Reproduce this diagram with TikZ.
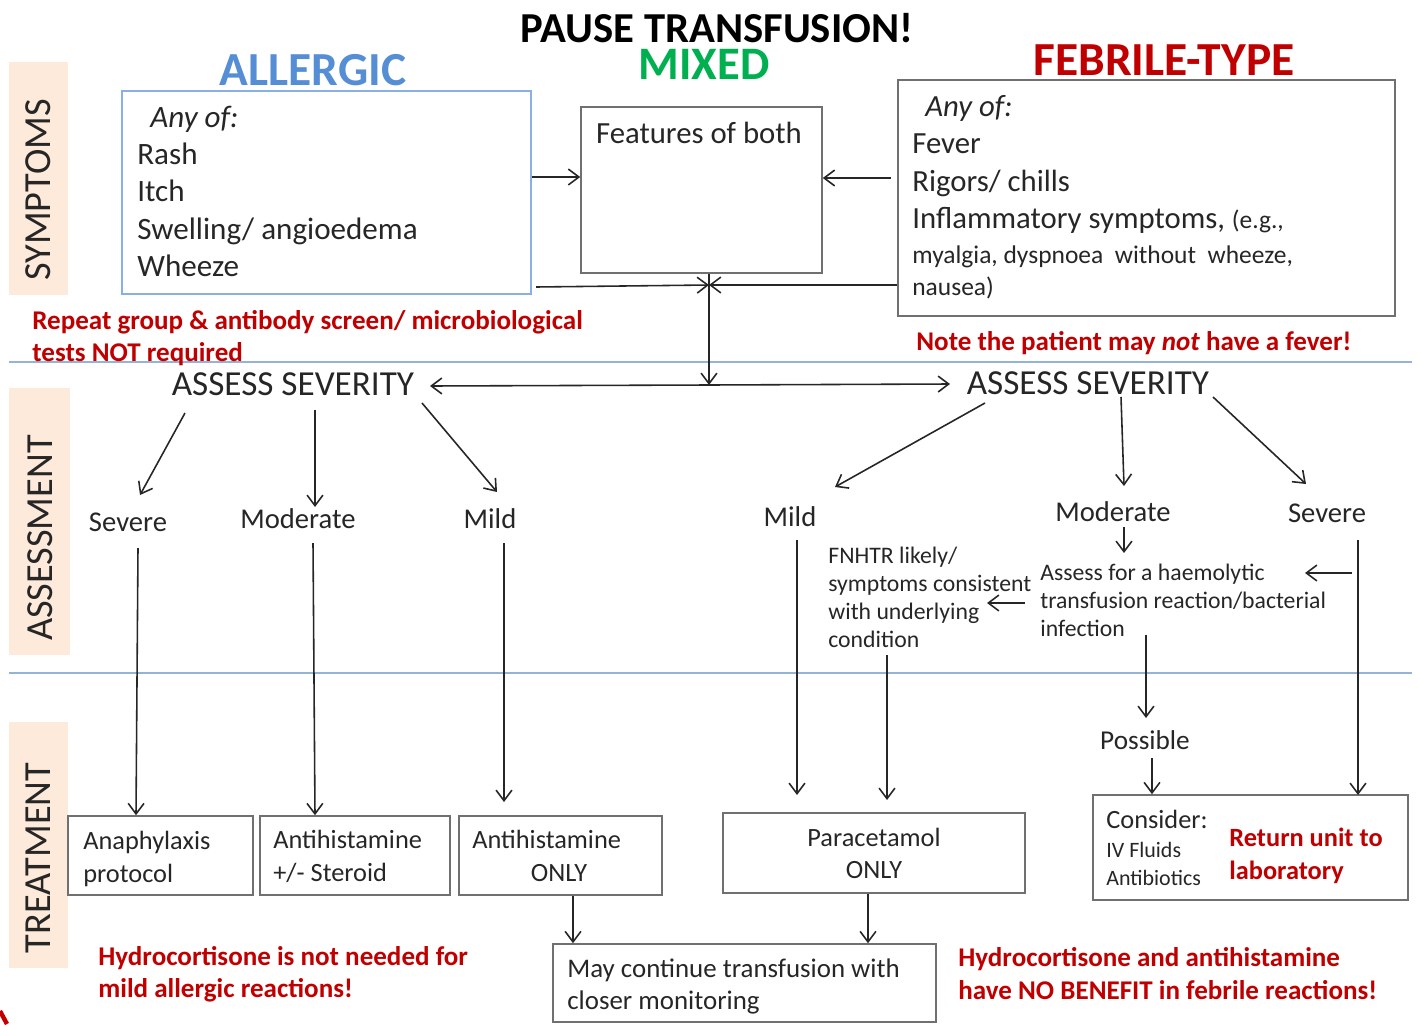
\documentclass[tikz,border=0pt]{standalone}
\usepackage{fontspec}
\setmainfont{Carlito}
\usetikzlibrary{arrows.meta,fit}
\definecolor{allblue}{HTML}{558ED5}
\definecolor{mixgreen}{HTML}{00B050}
\definecolor{febred}{HTML}{C00000}
\definecolor{bandfill}{HTML}{FDEADA}
\definecolor{sepblue}{HTML}{95B3D7}
\definecolor{txt}{HTML}{262626}
\definecolor{boxgray}{HTML}{707070}
\begin{document}
\begin{tikzpicture}[x=0.02cm,y=-0.02cm,
  fz/.style={font=\fontsize{#1}{#1}\selectfont},
  tx/.style={inner sep=0pt, text=txt, text height=0.96em, text depth=0.1em},
  lt/.style={tx, anchor=west},
  ct/.style={tx, anchor=center},
  redn/.style={lt, text=febred, font=\bfseries\fontsize{15.4pt}{15.4pt}\selectfont},
  box/.style={draw=boxgray, line width=0.9pt, inner sep=0pt},
  band/.style={fill=bandfill, draw=none, inner sep=0pt},
  sidelabel/.style={rotate=90, inner sep=0pt, text=txt, fz=21.8pt},
  arr/.style={-{Straight Barb[length=6pt,width=9pt]}, line width=0.9pt, draw=black!85},
  sep/.style={draw=sepblue, line width=0.9pt}]
\useasboundingbox (0,0) rectangle (1422,1024);

% side bands
\node[band, fit={(9,62) (68,295)}] (bandS) {};
\node[band, fit={(9,388) (70,655)}] (bandA) {};
\node[band, fit={(9,722) (68,968)}] (bandT) {};
\node[sidelabel] (labS) at (38,190) {SYMPTOMS};
\node[sidelabel] (labA) at (40,538) {ASSESSMENT};
\node[sidelabel] (labT) at (38,858) {TREATMENT};

% separators
\coordinate (s1l) at (9,362); \coordinate (s1r) at (1412,362);
\coordinate (s2l) at (9,673); \coordinate (s2r) at (1412,673);
\draw[sep] (s1l) -- (s1r);
\draw[sep] (s2l) -- (s2r);

% titles
\node[ct, text=black, font=\bfseries\fontsize{24.3pt}{24.3pt}\selectfont] (title) at (717,35) {PAUSE TRANSFUSION!};
\node[ct, text=allblue, font=\bfseries\fontsize{27pt}{27pt}\selectfont] (tAll) at (313,78) {ALLERGIC};
\node[ct, text=mixgreen, font=\bfseries\fontsize{26.5pt}{26.5pt}\selectfont] (tMix) at (704,72) {MIXED};
\node[ct, text=febred, font=\bfseries\fontsize{27pt}{27pt}\selectfont] (tFeb) at (1164,68) {FEBRILE-TYPE};

% symptom boxes
\node[box, draw=allblue!70, fit={(122,91) (531,294)}] (allergic) {};
\node[lt, font=\itshape\fontsize{17.7pt}{17.7pt}\selectfont] (aAny) at (150,120) {Any of:};
\node[lt, fz=17.7pt] (aRash) at (137,157) {Rash};
\node[lt, fz=17.7pt] (aItch) at (137,194) {Itch};
\node[lt, fz=17.7pt] (aSwel) at (137,232) {Swelling/ angioedema};
\node[lt, fz=17.7pt] (aWhee) at (137,269) {Wheeze};

\node[box, fit={(581,107) (822,273)}] (mixed) {};
\node[ct, fz=17.5pt] (mFeat) at (699,136) {Features of both};

\node[box, fit={(898,80) (1395,316)}] (febrile) {};
\node[lt, font=\itshape\fontsize{17.5pt}{17.5pt}\selectfont] (fAny) at (925,109) {Any of:};
\node[lt, fz=17.5pt] (fFev) at (912,146) {Fever};
\node[lt, fz=17.5pt] (fRig) at (912,184) {Rigors/ chills};
\node[lt, fz=17.5pt] (fInf) at (912,221) {Inflammatory symptoms, {\fontsize{14.5pt}{14.5pt}\selectfont (e.g.,}};
\node[lt, fz=14.5pt] (fMya) at (912,256) {myalgia, dyspnoea\ \ without\ \ wheeze,};
\node[lt, fz=14.5pt] (fNau) at (912,288) {nausea)};

% red notes top
\node[redn] (rep1) at (32,322) {Repeat group \& antibody screen/ microbiological};
\node[redn] (rep2) at (32,354) {tests NOT required};
\node[redn] (note) at (916,343) {Note the patient may \textit{not} have a fever!};

% symptom arrows
\coordinate (y177) at (0,177);
\coordinate (y178) at (0,178);
\coordinate (j1) at (709,285);
\coordinate (fstart) at (891,178);
\draw[arr] (allergic.east |- y177) -- (mixed.west |- y177);
\draw[arr] (fstart) -- (mixed.east |- y178);
\coordinate (aout) at (536,287);
\draw[arr] (aout) -- (j1);
\draw[arr] (febrile.west |- j1) -- (j1);
\coordinate (j2) at (709,385);
\draw[arr] (mixed.south -| j1) -- (j2);

% assess severity
\node[ct, fz=20pt] (asL) at (293,388) {ASSESS SEVERITY};
\node[ct, fz=20pt] (asR) at (1088,387) {ASSESS SEVERITY};
\coordinate (asLend) at (430,386);
\coordinate (asRend) at (950,384);
\draw[arr] (j2) -- (asLend);
\draw[arr] (j2) -- (asRend);

% left severity labels
\node[ct, fz=16.3pt] (lSev) at (128,524) {Severe};
\node[ct, fz=16.3pt] (lMod) at (298,521) {Moderate};
\node[ct, fz=16.3pt] (lMil) at (490,521) {Mild};
\coordinate (l1a) at (185,413); \coordinate (l1b) at (140,495);
\coordinate (l2a) at (315,410); \coordinate (l2b) at (315,507);
\coordinate (l3a) at (422,403); \coordinate (l3b) at (497,492);
\draw[arr] (l1a) -- (l1b);
\draw[arr] (l2a) -- (l2b);
\draw[arr] (l3a) -- (l3b);

% right severity labels
\node[ct, fz=16.3pt] (rMil) at (790,519) {Mild};
\node[ct, fz=16.3pt] (rMod) at (1113,514) {Moderate};
\node[ct, fz=16.3pt] (rSev) at (1327,515) {Severe};
\coordinate (r1a) at (985,403); \coordinate (r1b) at (835,487);
\coordinate (r2a) at (1121,397); \coordinate (r2b) at (1124,486);
\coordinate (r3a) at (1213,397); \coordinate (r3b) at (1306,484);
\draw[arr] (r1a) -- (r1b);
\draw[arr] (r2a) -- (r2b);
\draw[arr] (r3a) -- (r3b);

% middle texts
\node[lt, fz=13.5pt] (fn1) at (828,556) {FNHTR likely/};
\node[lt, fz=13.5pt] (fn2) at (828,584) {symptoms consistent};
\node[lt, fz=13.5pt] (fn3) at (828,612) {with underlying};
\node[lt, fz=13.5pt] (fn4) at (828,640) {condition};
\node[lt, fz=13.5pt] (as1) at (1040,573) {Assess for a haemolytic};
\node[lt, fz=13.5pt] (as2) at (1040,601) {transfusion reaction/bacterial};
\node[lt, fz=13.5pt] (as3) at (1040,629) {infection};
\node[ct, fz=15.5pt] (poss) at (1145,742) {Possible};

% treatment boxes
\node[box, fit={(68,816) (253,895)}] (anaph) {};
\node[lt, fz=15pt] at (83,842) {Anaphylaxis};
\node[lt, fz=15pt] at (83,875) {protocol};
\node[box, fit={(260,816) (450,895)}] (steroid) {};
\node[lt, fz=15pt] at (273,841) {Antihistamine};
\node[lt, fz=15pt] at (273,874) {+/- Steroid};
\node[box, fit={(459,816) (662,895)}] (antionly) {};
\node[lt, fz=15pt] at (472,841) {Antihistamine};
\node[ct, fz=15pt] at (559,874) {ONLY};
\node[box, fit={(723,813) (1025,893)}] (para) {};
\node[ct, fz=15pt] at (874,839) {Paracetamol};
\node[ct, fz=15pt] at (874,871) {ONLY};
\node[box, fit={(1093,795) (1408,900)}] (consider) {};
\node[lt, fz=15pt] at (1106,821) {Consider:};
\node[lt, fz=12.5pt] at (1106,850) {IV Fluids};
\node[lt, fz=12.5pt] at (1106,878) {Antibiotics};
\node[ct, text=febred, font=\bfseries\fontsize{15pt}{15pt}\selectfont] at (1306,839) {Return unit to};
\node[lt, text=febred, font=\bfseries\fontsize{15pt}{15pt}\selectfont] at (1229,872) {laboratory};
\node[box, fit={(553,944) (936,1022)}] (cont) {};
\node[lt, fz=15.3pt] at (567,970) {May continue transfusion with};
\node[lt, fz=15.3pt] at (567,1002) {closer monitoring};

% treatment arrows
\coordinate (d1) at (138,548); \coordinate (d2) at (313,543); \coordinate (d3) at (504,543);
\draw[arr] (d1) -- (anaph.north -| 136,0);
\draw[arr] (d2) -- (steroid.north -| 315,0);
\draw[arr] (d3) -- (504,802);
\draw[arr] (antionly.south -| 573,0) -- (cont.north -| 573,0);
\draw[arr] (para.south -| 868,0) -- (cont.north -| 868,0);
\coordinate (m1) at (797,540);
\draw[arr] (m1) -- (797,795);
\coordinate (m2) at (1124,527);
\draw[arr] (m2) -- (1124,553);
\coordinate (sv1) at (1352,573);
\draw[arr] (sv1) -- (1305,573);
\coordinate (fa1) at (1025,603);
\draw[arr] (fa1) -- (987,603);
\coordinate (fn5) at (887,655);
\draw[arr] (fn5) -- (887,800);
\coordinate (sv0) at (1358,540);
\draw[arr] (sv0) -- (1358,795);
\coordinate (as4) at (1146,635);
\draw[arr] (as4) -- (1146,718);
\coordinate (ps1) at (1152,758);
\draw[arr] (ps1) -- (consider.north -| 1152,0);

% red notes bottom
\node[redn] at (98,958) {Hydrocortisone is not needed for};
\node[redn] at (98,990) {mild allergic reactions!};
\node[redn] at (958,959) {Hydrocortisone and antihistamine};
\node[redn] at (958,992) {have NO BENEFIT in febrile reactions!};

% corner mark
\coordinate (cm1) at (0,1011); \coordinate (cm2) at (7,1024);
\draw[febred, line width=2.5pt] (cm1) -- (cm2);
\end{tikzpicture}
\end{document}
